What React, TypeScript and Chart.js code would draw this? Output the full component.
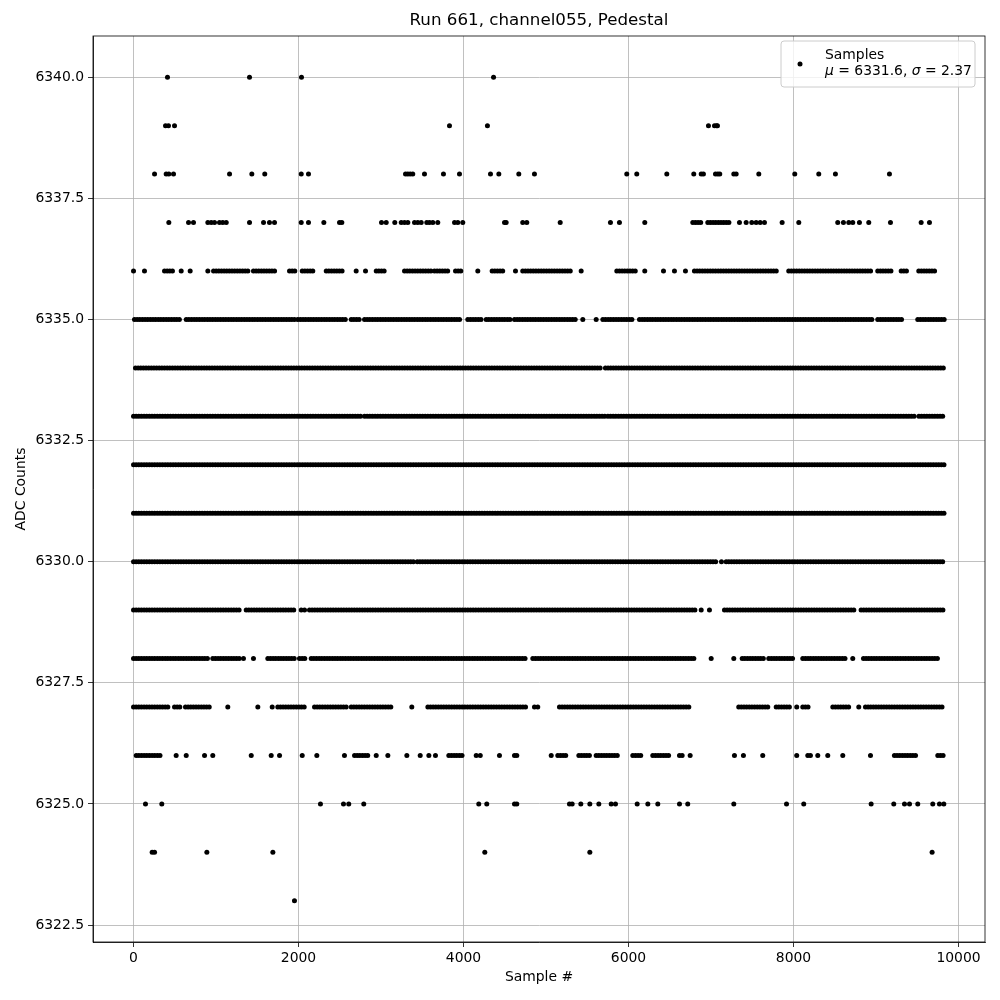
import React, { useEffect, useRef } from "react";
import { Chart, registerables } from "chart.js";

Chart.register(...registerables);

// ---- Data (sample index positions per ADC level; [a, b] = a densely filled run of samples) ----
const TITLE = "Run 661, channel055, Pedestal";
const X_LABEL = "Sample #";
const Y_LABEL = "ADC Counts";
const LEGEND_LABEL = "Samples";
const LEGEND_MU = "6331.6";
const LEGEND_SIGMA = "2.37";
const RUN_STEP = 32; // sample spacing of points inside a dense run

const X_TICKS = [0, 2000, 4000, 6000, 8000, 10000];
const Y_TICKS = [6322.5, 6325.0, 6327.5, 6330.0, 6332.5, 6335.0, 6337.5, 6340.0];

const L6340 = [412, 1406, 2036, 4364];
const L6339 = [388, 424, 497, 3830, 4290, 6969, 7042, 7066, 7078];
const L6338 = [255, 396, 428, 485, 1164, 1434, 1591, 2033, 2121, 3297, 3325, 3354, 3385, 3527, 3757, 3951, 4327, 4428, 4670, 4860, 5979, 6100, 6464, 6791, 6881, 6908, 7054, 7082, 7106, 7276, 7305, 7579, 8015, 8306, 8508, 9163];
const L6337 = [428, 667, 727, 901, 942, 982, 1042, 1082, 1124, 1406, 1576, 1648, 1709, 2033, 2121, 2307, 2497, 2525, 3006, 3063, 3167, 3245, 3285, 3325, 3406, 3446, 3487, 3555, 3588, 3628, 3688, 3891, 3931, 3991, 4497, 4517, 4718, 4767, 5172, 5781, 5890, 6197, [6779, 6900], [6961, 7224], 7345, 7426, 7494, 7547, 7596, 7648, 7862, 8064, 8536, 8605, 8670, 8718, 8799, 8912, 9175, 9547, 9648];
const L6336 = [0, 133, [376, 497], 578, 687, 901, [970, 1397], [1454, 1730], [1891, 1972], [2045, 2173], [2336, 2545], 2699, 2812, [2942, 3063], [3285, 3608], [3648, 3830], [3903, 3972], 4173, [4347, 4476], 4630, [4718, 5324], 5426, [5858, 6093], 6197, 6424, 6557, 6690, [6799, 7797], [7942, 8960], [9021, 9203], [9305, 9386], [9518, 9728]];
const L6335 = [[12, 558], [639, 1951], [1991, 2578], [2639, 2739], [2800, 3972], [4052, 4213], [4275, 4578], [4618, 5366], 5446, 5608, [5689, 6052], [6133, 8960], [9021, 9324], [9506, 9830]];
const L6334 = [[24, 5672], [5720, 9830]];
const L6333 = [[0, 2760], [2800, 5720], [5750, 9490], [9520, 9830]];
const L6332 = [[0, 9830]];
const L6331 = [[0, 9830]];
const L6330 = [[0, 3410], [3440, 7062], 7127, [7184, 9830]];
const L6329 = [[0, 1305], [1366, 1972], 2033, 2073, [2133, 6820], 6881, 6981, [7163, 8759], [8819, 9830]];
const L6328 = [[0, 921], [961, 1285], 1333, 1454, [1628, 1972], [2012, 2093], [2154, 4760], [4840, 6800], 7002, 7276, [7378, 7636], [7700, 7991], [8112, 8638], 8718, [8848, 9770]];
const L6327 = [[0, 436], [497, 578], [630, 942], 1143, 1507, 1681, [1749, 2093], [2194, 2578], [2639, 3141], 3373, [3568, 4780], 4860, 4900, [5163, 6739], [7336, 7708], [7790, 7972], 8039, [8112, 8201], [8476, 8697], 8791, [8872, 9809]];
const L6326 = [[33, 336], 517, 639, 861, 961, 1427, 1669, 1770, 2045, 2222, 2557, [2679, 2841], 2942, 3083, 3313, 3475, 3580, 3660, [3822, 4012], 4154, 4203, 4436, 4618, 4646, 5063, [5143, 5245], [5398, 5527], [5608, 5870], [6052, 6153], [6294, 6497], [6618, 6666], 6747, 7284, 7393, 7627, 8039, [8173, 8233], 8294, 8415, 8597, 8933, [9223, 9506], [9749, 9818]];
const L6325 = [145, 343, 2266, 2545, 2609, 2791, 4185, 4282, 4618, 4646, 5284, 5317, 5422, 5531, 5640, 5790, 5842, 6105, 6234, 6355, 6618, 6718, 7276, 7915, 8124, 8941, 9215, 9345, 9406, 9506, 9688, 9769, 9822];
const L6324 = [226, 255, 889, 1689, 4258, 5531, 9680];
const L6323 = [1951];

const LEVELS: [number, (number | number[])[]][] = [
  [6340, L6340], [6339, L6339], [6338, L6338], [6337, L6337], [6336, L6336],
  [6335, L6335], [6334, L6334], [6333, L6333], [6332, L6332], [6331, L6331],
  [6330, L6330], [6329, L6329], [6328, L6328], [6327, L6327], [6326, L6326],
  [6325, L6325], [6324, L6324], [6323, L6323],
];

const X_MIN = -491;
const X_MAX = 10321;
const Y_MIN = 6322.15;
const Y_MAX = 6340.85;

function buildPoints() {
  const pts: { x: number; y: number }[] = [];
  for (const [level, runs] of LEVELS) {
    for (const r of runs) {
      if (typeof r === "number") pts.push({ x: r, y: level });
      else for (let x = r[0]; x <= r[1]; x += RUN_STEP) pts.push({ x, y: level });
    }
  }
  return pts;
}

const FONT = "'DejaVu Sans', sans-serif";

const decorPlugin = {
  id: "decor",
  afterDraw(chart: any) {
    const { ctx, chartArea } = chart;
    const { left, right, top, bottom } = chartArea;
    ctx.save();
    // frame
    ctx.strokeStyle = "#000";
    ctx.lineWidth = 0.8;
    ctx.strokeRect(left, top, right - left, bottom - top);
    // title
    ctx.fillStyle = "#000";
    ctx.textAlign = "center";
    ctx.textBaseline = "middle";
    ctx.font = `16.7px ${FONT}`;
    ctx.fillText(TITLE, (left + right) / 2, 21);
    // axis labels
    ctx.font = `13.9px ${FONT}`;
    ctx.fillText(X_LABEL, (left + right) / 2, 977);
    ctx.save();
    ctx.translate(21, (top + bottom) / 2);
    ctx.rotate(-Math.PI / 2);
    ctx.fillText(Y_LABEL, 0, 0);
    ctx.restore();
    // legend
    const bx = 781, by = 41, bw = 194, bh = 46, r = 3;
    ctx.beginPath();
    ctx.moveTo(bx + r, by);
    ctx.lineTo(bx + bw - r, by);
    ctx.quadraticCurveTo(bx + bw, by, bx + bw, by + r);
    ctx.lineTo(bx + bw, by + bh - r);
    ctx.quadraticCurveTo(bx + bw, by + bh, bx + bw - r, by + bh);
    ctx.lineTo(bx + r, by + bh);
    ctx.quadraticCurveTo(bx, by + bh, bx, by + bh - r);
    ctx.lineTo(bx, by + r);
    ctx.quadraticCurveTo(bx, by, bx + r, by);
    ctx.closePath();
    ctx.fillStyle = "rgba(255,255,255,0.8)";
    ctx.fill();
    ctx.strokeStyle = "#cccccc";
    ctx.lineWidth = 1;
    ctx.stroke();
    // marker
    ctx.fillStyle = "#000";
    ctx.beginPath();
    ctx.arc(800, 64, 2.5, 0, Math.PI * 2);
    ctx.fill();
    // text
    ctx.textAlign = "left";
    ctx.textBaseline = "middle";
    ctx.font = `13.9px ${FONT}`;
    ctx.fillText(LEGEND_LABEL, 825, 55);
    let x = 825;
    const y2 = 71;
    const parts: [string, boolean][] = [
      ["μ", true], [` = ${LEGEND_MU}, `, false], ["σ", true], [` = ${LEGEND_SIGMA}`, false],
    ];
    for (const [t, it] of parts) {
      ctx.font = `${it ? "italic " : ""}13.9px ${FONT}`;
      ctx.fillText(t, x, y2);
      x += ctx.measureText(t).width;
    }
    ctx.restore();
  },
};

export default function App() {
  const ref = useRef<HTMLCanvasElement | null>(null);
  useEffect(() => {
    if (!ref.current) return;
    const tickFont = { family: FONT, size: 13.9 };
    const chart = new Chart(ref.current, {
      type: "scatter",
      data: {
        datasets: [
          {
            label: LEGEND_LABEL,
            data: buildPoints(),
            pointRadius: 2.5,
            pointBackgroundColor: "#000",
            pointBorderWidth: 0,
            pointHoverRadius: 2.5,
          },
        ],
      },
      options: {
        animation: false,
        responsive: false,
        events: [],
        layout: { padding: { top: 36, right: 15, left: 0, bottom: 0 } },
        plugins: { legend: { display: false }, tooltip: { enabled: false }, title: { display: false } },
        scales: {
          x: {
            type: "linear",
            min: X_MIN,
            max: X_MAX,
            afterBuildTicks: (s: any) => { s.ticks = X_TICKS.map((v) => ({ value: v })); },
            ticks: {
              color: "#000",
              font: tickFont,
              padding: 3,
              maxRotation: 0,
              autoSkip: false,
              callback: (v: any) => String(Math.round(Number(v))),
            },
            grid: { color: "#b0b0b0", lineWidth: 0.8, tickColor: "#000", tickLength: 5, tickWidth: 0.8 },
            border: { color: "#000", width: 0.8 },
            afterFit: (s: any) => { s.height = 58; },
          },
          y: {
            type: "linear",
            min: Y_MIN,
            max: Y_MAX,
            afterBuildTicks: (s: any) => { s.ticks = Y_TICKS.map((v) => ({ value: v })); },
            ticks: {
              color: "#000",
              font: tickFont,
              padding: 4,
              autoSkip: false,
              callback: (v: any) => Number(v).toFixed(1),
            },
            grid: { color: "#b0b0b0", lineWidth: 0.8, tickColor: "#000", tickLength: 5, tickWidth: 0.8 },
            border: { color: "#000", width: 0.8 },
            afterFit: (s: any) => { s.width = 93; },
          },
        },
      },
      plugins: [decorPlugin],
    } as any);
    return () => chart.destroy();
  }, []);
  return (
    <div style={{ position: "fixed", left: 0, top: 0, width: 1000, height: 1000, background: "#fff" }}>
      <canvas ref={ref} width={1000} height={1000} style={{ display: "block" }} />
    </div>
  );
}
